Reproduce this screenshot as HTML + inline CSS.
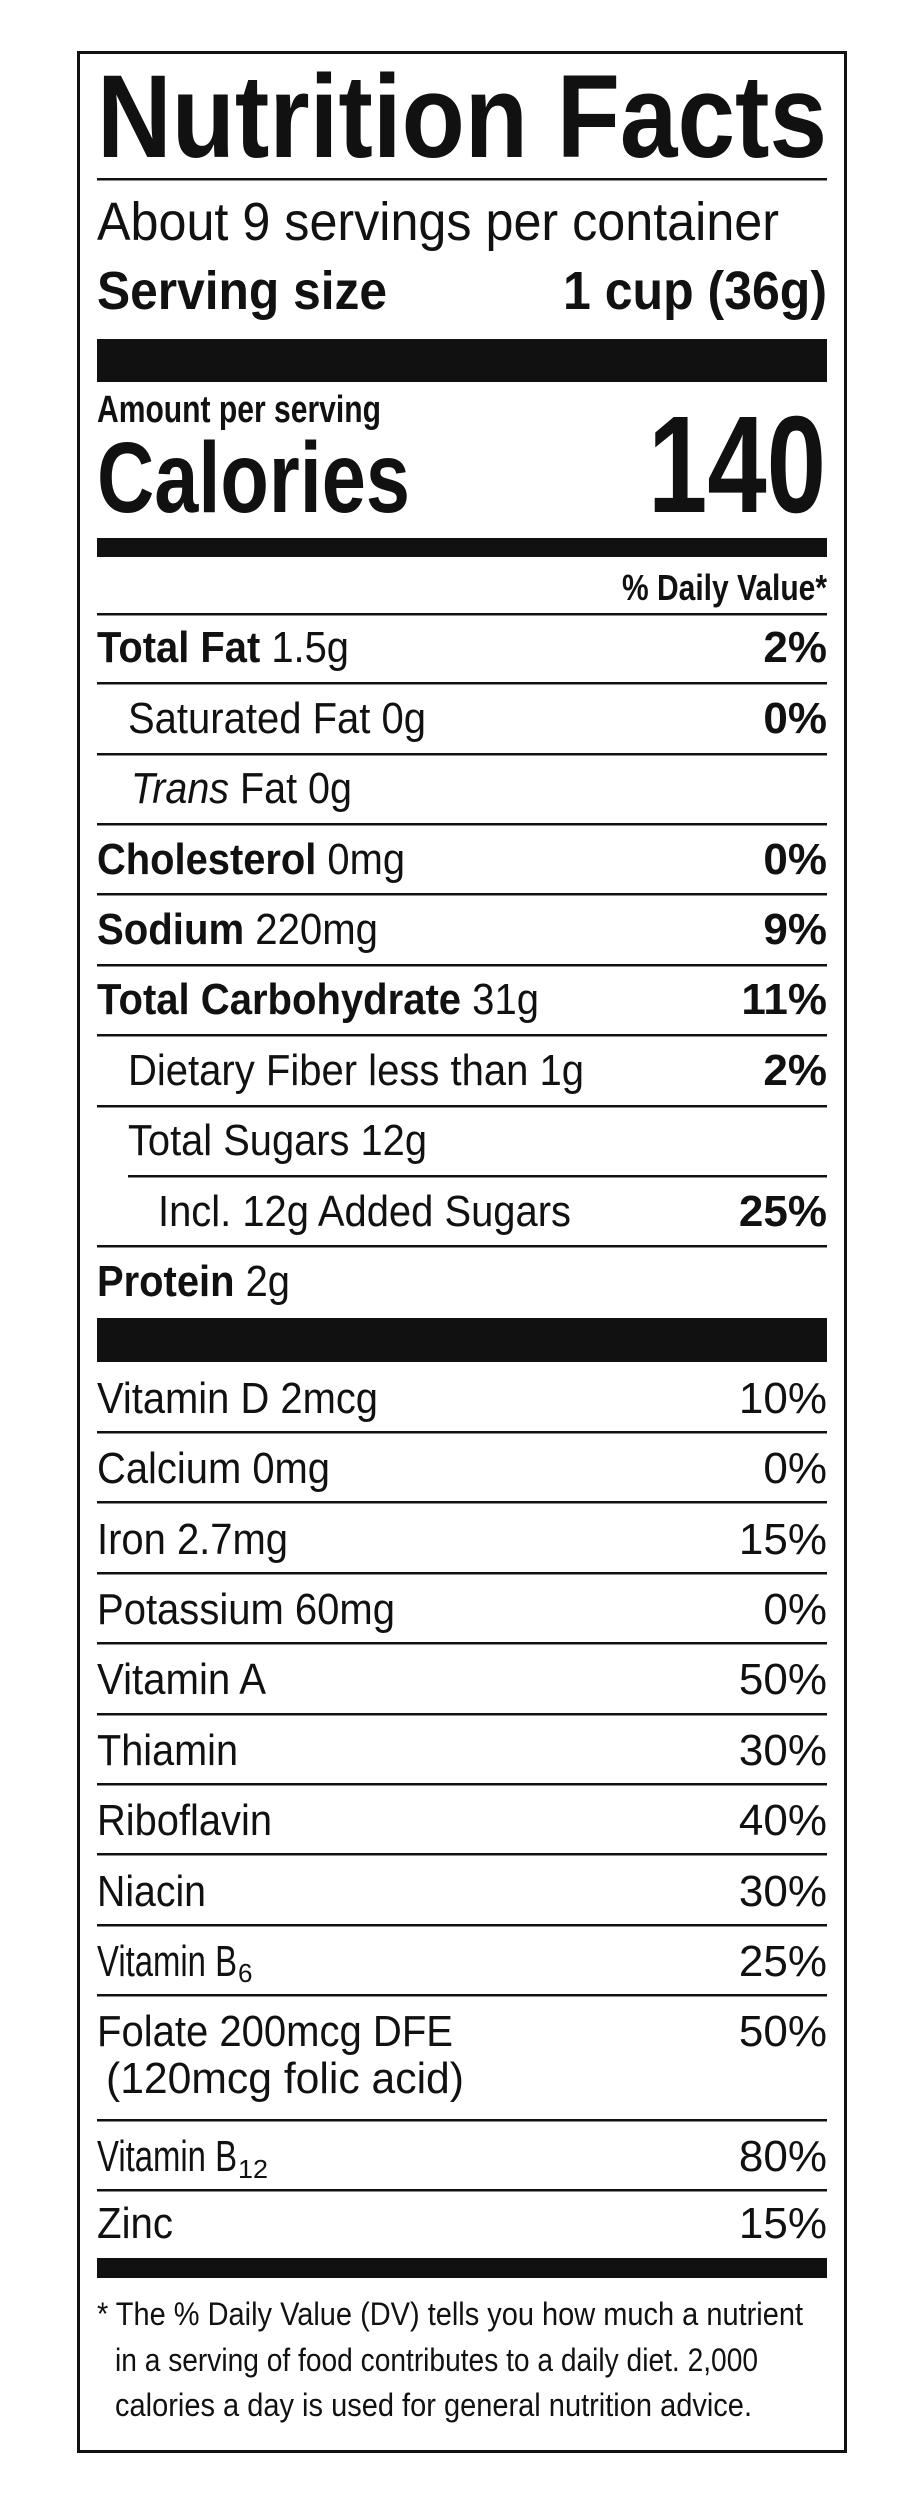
<!DOCTYPE html>
<html><head><meta charset="utf-8"><style>
html,body{margin:0;padding:0;background:#fff}
svg{display:block}
text{font-family:"Liberation Sans",Arial,sans-serif;fill:#111}
.b{font-weight:bold}
</style></head><body>
<svg width="921" height="2500" viewBox="0 0 921 2500" xmlns="http://www.w3.org/2000/svg">
<rect x="78.5" y="52.5" width="767" height="2399" fill="none" stroke="#111" stroke-width="3"/>
<text class="b" x="97" y="157" font-size="118" textLength="730" lengthAdjust="spacingAndGlyphs">Nutrition Facts</text>
<rect x="97" y="178" width="730" height="2.5" fill="#111"/>
<text x="97" y="240" font-size="54" textLength="682" lengthAdjust="spacingAndGlyphs">About 9 servings per container</text>
<text class="b" x="97" y="309" font-size="54" textLength="290" lengthAdjust="spacingAndGlyphs">Serving size</text>
<text class="b" x="563" y="309" font-size="54" textLength="264" lengthAdjust="spacingAndGlyphs">1 cup (36g)</text>
<rect x="97" y="339" width="730" height="43" fill="#111"/>
<text class="b" x="97" y="422" font-size="38" textLength="284" lengthAdjust="spacingAndGlyphs">Amount per serving</text>
<text class="b" x="97" y="512" font-size="100" textLength="313" lengthAdjust="spacingAndGlyphs">Calories</text>
<text class="b" x="648" y="512" font-size="138" textLength="178" lengthAdjust="spacingAndGlyphs">140</text>
<rect x="97" y="538" width="730" height="19" fill="#111"/>
<text class="b" x="622" y="600" font-size="36" textLength="205" lengthAdjust="spacingAndGlyphs">% Daily Value*</text>

<g fill="#111">
<rect x="97" y="613" width="730" height="2.5"/>
<rect x="97" y="682" width="730" height="2.5"/>
<rect x="97" y="753" width="730" height="2.5"/>
<rect x="97" y="823" width="730" height="2.5"/>
<rect x="97" y="893" width="730" height="2.5"/>
<rect x="97" y="964" width="730" height="2.5"/>
<rect x="97" y="1034" width="730" height="2.5"/>
<rect x="97" y="1105" width="730" height="2.5"/>
<rect x="128" y="1175" width="699" height="2.5"/>
<rect x="97" y="1245" width="730" height="2.5"/>
<rect x="97" y="1318" width="730" height="44"/>
<rect x="97" y="1431" width="730" height="2.5"/>
<rect x="97" y="1501" width="730" height="2.5"/>
<rect x="97" y="1572" width="730" height="2.5"/>
<rect x="97" y="1642" width="730" height="2.5"/>
<rect x="97" y="1713" width="730" height="2.5"/>
<rect x="97" y="1783" width="730" height="2.5"/>
<rect x="97" y="1853" width="730" height="2.5"/>
<rect x="97" y="1924" width="730" height="2.5"/>
<rect x="97" y="1994" width="730" height="2.5"/>
<rect x="97" y="2119" width="730" height="2.5"/>
<rect x="97" y="2189" width="730" height="2.5"/>
<rect x="97" y="2258" width="730" height="20"/>
</g>

<g font-size="44">
<text x="97" y="662" textLength="252" lengthAdjust="spacingAndGlyphs"><tspan class="b">Total Fat</tspan> 1.5g</text>
<text x="128" y="733" textLength="298" lengthAdjust="spacingAndGlyphs">Saturated Fat 0g</text>
<text x="131" y="803" textLength="221" lengthAdjust="spacingAndGlyphs"><tspan font-style="italic">Trans</tspan> Fat 0g</text>
<text x="97" y="874" textLength="308" lengthAdjust="spacingAndGlyphs"><tspan class="b">Cholesterol</tspan> 0mg</text>
<text x="97" y="944" textLength="281" lengthAdjust="spacingAndGlyphs"><tspan class="b">Sodium</tspan> 220mg</text>
<text x="97" y="1014" textLength="442" lengthAdjust="spacingAndGlyphs"><tspan class="b">Total Carbohydrate</tspan> 31g</text>
<text x="128" y="1085" textLength="456" lengthAdjust="spacingAndGlyphs">Dietary Fiber less than 1g</text>
<text x="128" y="1155" textLength="299" lengthAdjust="spacingAndGlyphs">Total Sugars 12g</text>
<text x="158" y="1226" textLength="413" lengthAdjust="spacingAndGlyphs">Incl. 12g Added Sugars</text>
<text x="97" y="1296" textLength="193" lengthAdjust="spacingAndGlyphs"><tspan class="b">Protein</tspan> 2g</text>
</g>
<g font-size="44" class="b" text-anchor="end">
<text x="827" y="662">2%</text>
<text x="827" y="733">0%</text>
<text x="827" y="874">0%</text>
<text x="827" y="944">9%</text>
<text x="827" y="1014">11%</text>
<text x="827" y="1085">2%</text>
<text x="827" y="1226">25%</text>
</g>

<g font-size="44">
<text x="97" y="1413" textLength="281" lengthAdjust="spacingAndGlyphs">Vitamin D 2mcg</text>
<text x="97" y="1483" textLength="233" lengthAdjust="spacingAndGlyphs">Calcium 0mg</text>
<text x="97" y="1554" textLength="191" lengthAdjust="spacingAndGlyphs">Iron 2.7mg</text>
<text x="97" y="1624" textLength="298" lengthAdjust="spacingAndGlyphs">Potassium 60mg</text>
<text x="97" y="1694" textLength="169" lengthAdjust="spacingAndGlyphs">Vitamin A</text>
<text x="97" y="1765" textLength="141" lengthAdjust="spacingAndGlyphs">Thiamin</text>
<text x="97" y="1835" textLength="175" lengthAdjust="spacingAndGlyphs">Riboflavin</text>
<text x="97" y="1906" textLength="109" lengthAdjust="spacingAndGlyphs">Niacin</text>
<text x="97" y="1976" textLength="140" lengthAdjust="spacingAndGlyphs">Vitamin B</text>
<text x="238" y="1982" font-size="26">6</text>
<text x="97" y="2046" textLength="356" lengthAdjust="spacingAndGlyphs">Folate 200mcg DFE</text>
<text x="106" y="2093" textLength="358" lengthAdjust="spacingAndGlyphs">(120mcg folic acid)</text>
<text x="97" y="2171" textLength="140" lengthAdjust="spacingAndGlyphs">Vitamin B</text>
<text x="238" y="2178" font-size="26" textLength="30" lengthAdjust="spacingAndGlyphs">12</text>
<text x="97" y="2238" textLength="76" lengthAdjust="spacingAndGlyphs">Zinc</text>
</g>
<g font-size="44" text-anchor="end">
<text x="827" y="1413">10%</text>
<text x="827" y="1483">0%</text>
<text x="827" y="1554">15%</text>
<text x="827" y="1624">0%</text>
<text x="827" y="1694">50%</text>
<text x="827" y="1765">30%</text>
<text x="827" y="1835">40%</text>
<text x="827" y="1906">30%</text>
<text x="827" y="1976">25%</text>
<text x="827" y="2046">50%</text>
<text x="827" y="2171">80%</text>
<text x="827" y="2238">15%</text>
</g>

<g font-size="32">
<text x="97" y="2325" textLength="706" lengthAdjust="spacingAndGlyphs">* The % Daily Value (DV) tells you how much a nutrient</text>
<text x="115" y="2371" textLength="643" lengthAdjust="spacingAndGlyphs">in a serving of food contributes to a daily diet. 2,000</text>
<text x="115" y="2416" textLength="637" lengthAdjust="spacingAndGlyphs">calories a day is used for general nutrition advice.</text>
</g>
</svg>
</body></html>
